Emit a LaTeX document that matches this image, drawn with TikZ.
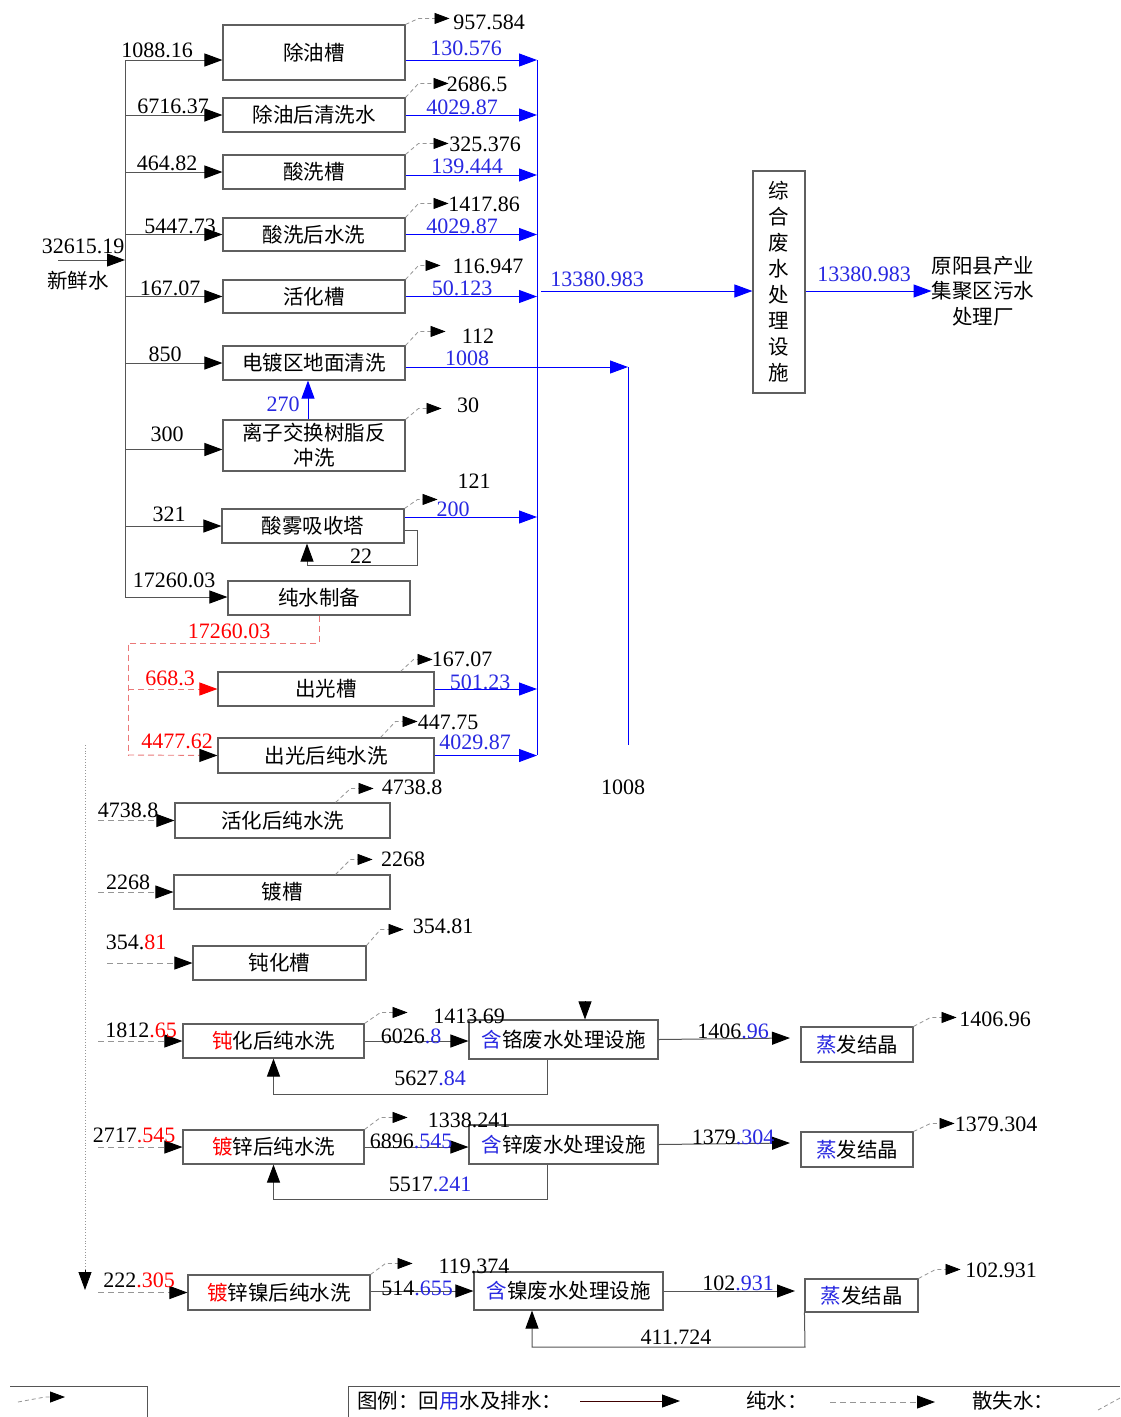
\documentclass[tikz,border=0pt]{standalone}
\usepackage{fontspec}
\setmainfont{Liberation Serif}
\newfontfamily\cjk{Noto Sans CJK SC}
\usetikzlibrary{arrows.meta,calc}
\definecolor{boxgray}{RGB}{95,95,95}
\definecolor{lgray}{RGB}{85,85,85}
\definecolor{lossgray}{RGB}{150,150,150}
\definecolor{fblue}{RGB}{0,0,255}
\definecolor{tblue}{RGB}{40,40,225}
\definecolor{fred}{RGB}{255,0,0}
\definecolor{dred}{RGB}{235,120,120}
\begin{document}
\begin{tikzpicture}[x=1pt,y=-1pt,
  box/.style={draw=boxgray,line width=1.1pt,fill=white,inner sep=0pt,font=\cjk\fontsize{20.5}{24}\selectfont,align=center},
  num/.style={font=\fontsize{22}{24}\selectfont,inner sep=0pt},
  bnum/.style={num,text=tblue},
  rnum/.style={num,text=fred},
  cjklab/.style={font=\cjk\fontsize{20.5}{25.5}\selectfont,align=center,inner sep=0pt},
  gline/.style={draw=lgray,line width=1pt},
  flow/.style={gline,-{Triangle[length=18pt,width=13pt,color=black]}},
  bline/.style={draw=fblue,line width=1pt},
  bflow/.style={bline,-{Triangle[length=18pt,width=13pt,color=fblue]}},
  rline/.style={draw=dred,line width=0.9pt,dash pattern=on 6pt off 4pt},
  rflow/.style={rline,-{Triangle[length=18pt,width=13pt,color=fred]}},
  rkflow/.style={rline,-{Triangle[length=18pt,width=13pt,color=black]}},
  pflow/.style={draw=lossgray,line width=0.9pt,dash pattern=on 6pt off 4pt,-{Triangle[length=18pt,width=13pt,color=black]}},
  loss/.style={draw=lossgray,line width=0.8pt,dash pattern=on 4pt off 3pt,-{Triangle[length=15pt,width=11pt,color=black]}},
]
\fill[white] (0,0) rectangle (1120,1417);
\useasboundingbox (0,0) rectangle (1120,1417);

% ---------------- boxes ----------------
\node[box,minimum width=182pt,minimum height=55pt] (b1) at (314,52.5) {除油槽};
\node[box,minimum width=182pt,minimum height=34pt] (b2) at (314,115) {除油后清洗水};
\node[box,minimum width=182pt,minimum height=34pt] (b3) at (314,172) {酸洗槽};
\node[box,minimum width=182pt,minimum height=33pt] (b4) at (314,234.5) {酸洗后水洗};
\node[box,minimum width=182pt,minimum height=33pt] (b5) at (314,296.5) {活化槽};
\node[box,minimum width=182pt,minimum height=34pt] (b6) at (314,363) {电镀区地面清洗};
\node[box,minimum width=182pt,minimum height=51pt,font=\cjk\fontsize{20.5}{25}\selectfont] (b7) at (314,445.5) {离子交换树脂反\\冲洗};
\node[box,minimum width=182pt,minimum height=34pt] (b8) at (313,526) {酸雾吸收塔};
\node[box,minimum width=182pt,minimum height=34pt] (b9) at (319,598) {纯水制备};
\node[box,minimum width=52pt,minimum height=222pt,font=\cjk\fontsize{20.5}{26}\selectfont] (c1) at (779,282) {综\\合\\废\\水\\处\\理\\设\\施};
\node[cjklab] (dest) at (983,291) {原阳县产业\\集聚区污水\\处理厂};

\node[box,minimum width=216pt,minimum height=34pt] (p1) at (326,689) {出光槽};
\node[box,minimum width=216pt,minimum height=35pt] (p2) at (326,755.5) {出光后纯水洗};
\node[box,minimum width=215pt,minimum height=35pt] (p3) at (282.5,820.5) {活化后纯水洗};
\node[box,minimum width=216pt,minimum height=34pt] (p4) at (282,892) {镀槽};
\node[box,minimum width=173pt,minimum height=34pt] (p5) at (279.5,963) {钝化槽};
\node[box,minimum width=181pt,minimum height=34pt] (p6) at (273.5,1041) {\textcolor{fred}{钝}化后纯水洗};
\node[box,minimum width=181pt,minimum height=34pt] (p7) at (273.5,1147) {\textcolor{fred}{镀}锌后纯水洗};
\node[box,minimum width=182pt,minimum height=35pt] (p8) at (279,1292.5) {\textcolor{fred}{镀}锌镍后纯水洗};
\node[box,minimum width=189pt,minimum height=39pt] (f1) at (563.5,1039.5) {\textcolor{tblue}{含}铬废水处理设施};
\node[box,minimum width=189pt,minimum height=39pt] (f2) at (563.5,1144.5) {\textcolor{tblue}{含}锌废水处理设施};
\node[box,minimum width=189pt,minimum height=38pt] (f3) at (568.5,1291) {\textcolor{tblue}{含}镍废水处理设施};
\node[box,minimum width=112pt,minimum height=35pt] (e1) at (857,1044.5) {\textcolor{tblue}{蒸}发结晶};
\node[box,minimum width=112pt,minimum height=35pt] (e2) at (857,1149.5) {\textcolor{tblue}{蒸}发结晶};
\node[box,minimum width=113pt,minimum height=33pt] (e3) at (861.5,1295.5) {\textcolor{tblue}{蒸}发结晶};

% ---------------- fresh water ----------------
\coordinate (fw) at (58,260);
\coordinate (t0) at (125,60);
\coordinate (t9) at (125,597);
\draw[gline] (t0) -- (t9);
\draw[flow] (fw) -- (fw -| t0);
\node[num] (lfw) at (83,246) {32615.19};
\node[cjklab] (lfw2) at (78,281) {新鲜水};

\coordinate (i1) at ([yshift=-7.5pt]b1.west);
\draw[flow] (t0) -- (i1);
\draw[flow] (t0 |- b2.west) -- (b2.west);
\draw[flow] (t0 |- b3.west) -- (b3.west);
\draw[flow] (t0 |- b4.west) -- (b4.west);
\draw[flow] (t0 |- b5.west) -- (b5.west);
\draw[flow] (t0 |- b6.west) -- (b6.west);
\coordinate (i7) at ([yshift=-4pt]b7.west);
\draw[flow] (t0 |- i7) -- (i7);
\draw[flow] (t0 |- b8.west) -- (b8.west);
\draw[flow] (t9) -- (t9 -| b9.west);

\node[num] at (157,50) {1088.16};
\node[num] at (173,106) {6716.37};
\node[num] at (167,163) {464.82};
\node[num] at (180,226) {5447.73};
\node[num] at (170,288) {167.07};
\node[num] at (165,354) {850};
\node[num] at (167,434) {300};
\node[num] at (169,514) {321};
\node[num] at (174,580) {17260.03};

% ---------------- losses (top) ----------------
\draw[loss] (b1.north east) -- ++(13,-6) -- ++(31,0);
\node[num] at (489,22) {957.584};
\draw[loss] (b2.north east) -- ++(13,-14) -- ++(30,0);
\node[num] at (477,84) {2686.5};
\draw[loss] (b3.north east) -- ++(13,-11) -- ++(30,0);
\node[num] at (485,144) {325.376};
\draw[loss] (b4.north east) -- ++(13,-14) -- ++(30,0);
\node[num] at (484,204) {1417.86};
\draw[loss] (b5.north east) -- ++(13,-14) -- ++(22,0);
\node[num] at (488,266) {116.947};
\draw[loss] (b6.north east) -- ++(13,-14) -- ++(27,0);
\node[num] at (478,336) {112};
\draw[loss] (b7.north east) -- ++(13,-11) -- ++(23,0);
\node[num] at (468,405) {30};
\draw[loss] (b8.north east) -- ++(13,-9) -- ++(20,0);
\node[num] at (474,481) {121};

% ---------------- blue collector ----------------
\coordinate (k0) at (537,60);
\coordinate (k1) at (537,755);
\draw[bline] (k0) -- (k1);
\coordinate (o1) at ([yshift=-7.5pt]b1.east);
\draw[bflow] (o1) -- (o1 -| k0);
\draw[bflow] (b2.east) -- (b2.east -| k0);
\coordinate (o3) at ([yshift=-3pt]b3.east);
\draw[bflow] (o3) -- (o3 -| k0);
\draw[bflow] (b4.east) -- (b4.east -| k0);
\draw[bflow] (b5.east) -- (b5.east -| k0);
\coordinate (o8) at ([yshift=9pt]b8.east);
\draw[bflow] (o8) -- (o8 -| k0);
\node[bnum] at (466,48) {130.576};
\node[bnum] at (462,107) {4029.87};
\node[bnum] at (467,166) {139.444};
\node[bnum] at (462,226) {4029.87};
\node[bnum] at (462,288) {50.123};
\node[bnum] at (453,509) {200};

% 1008 from floor washing
\coordinate (o6) at ([yshift=-4pt]b6.east);
\coordinate (r6) at (628,745);
\draw[bflow] (o6) -- (o6 -| r6);
\draw[bline] (r6 |- o6) -- (r6);
\node[bnum] at (467,358) {1008};
\node[num] at (623,787) {1008};

% 270 ion exchange -> floor washing
\coordinate (s7) at ([xshift=-6pt]b7.north);
\coordinate (s6) at ([xshift=-6pt]b6.south);
\draw[bflow] (s7) -- (s6);
\node[bnum] at (283,404) {270};

% acid mist loop 22
\coordinate (o8b) at ([yshift=-4pt]b8.east);
\coordinate (s8) at ([xshift=-6pt]b8.south);
\coordinate (q8) at (417,565);
\draw[flow] (o8b) -- (o8b -| q8) -- (q8) -- (q8 -| s8) -- (s8);
\node[num] at (361,556) {22};

% to combined treatment
\coordinate (m0) at (541,291);
\draw[bflow] (m0) -- (m0 -| c1.west);
\node[bnum] at (597,279) {13380.983};
\draw[bflow] (c1.east |- m0) -- (dest.west |- m0);
\node[bnum] at (864,274) {13380.983};

% ---------------- pure water ----------------
\coordinate (u0) at (319,643);
\coordinate (u1) at (128,643);
\coordinate (u2) at (128,755);
\draw[rline] (b9.south) -- (u0) -- (u1) -- (u2);
\node[rnum] at (229,631) {17260.03};

\draw[rflow] (u1 |- p1.west) -- (p1.west);
\node[rnum] at (170,678) {668.3};
\draw[rkflow] (u2) -- (p2.west);
\node[rnum] at (177,741) {4477.62};

\coordinate (n1) at ([xshift=-34pt]p1.north east);
\draw[loss] (n1) -- ++(13,-12) -- ++(19,0);
\node[num] at (462,659) {167.07};
\draw[bflow] (p1.east) -- (p1.east -| k0);
\node[bnum] at (480,682) {501.23};

\coordinate (n2) at ([xshift=-54pt]p2.north east);
\draw[loss] (n2) -- ++(15,-16) -- ++(22,0);
\node[num] at (448,722) {447.75};
\draw[bflow] (p2.east) -- (p2.east -| k0);
\node[bnum] at (475,742) {4029.87};

% lower pure water trunk
\coordinate (v0) at (85,745);
\coordinate (v1) at (85,1270);
\coordinate (v2) at (85,1290);
\coordinate (w0) at (98,745);
\coordinate (w5) at (107,745);
\draw[lossgray,line width=0.8pt,dotted] (v0) -- (v1);
\draw[-{Triangle[length=18pt,width=13pt,color=black]},draw=black,line width=0.8pt] (v1) -- (v2);

\draw[pflow] (w0 |- p3.west) -- (p3.west);
\node[num] at (128,810) {4738.8};
\draw[pflow] (w0 |- p4.west) -- (p4.west);
\node[num] at (128,882) {2268};
\draw[pflow] (w5 |- p5.west) -- (p5.west);
\node[num] at (136,942) {354.\textcolor{fred}{81}};
\draw[pflow] (w0 |- p6.west) -- (p6.west);
\node[num] at (141,1030) {1812\textcolor{fred}{.65}};
\draw[pflow] (w0 |- p7.west) -- (p7.west);
\node[num] at (134,1135) {2717\textcolor{fred}{.545}};
\draw[pflow] (w0 |- p8.west) -- (p8.west);
\node[num] at (139,1280) {222\textcolor{fred}{.305}};

\coordinate (n3) at ([xshift=-55pt]p3.north east);
\draw[loss] (n3) -- ++(15,-14) -- ++(23,0);
\node[num] at (412,787) {4738.8};
\coordinate (n4) at ([xshift=-55pt]p4.north east);
\draw[loss] (n4) -- ++(15,-15) -- ++(22,0);
\node[num] at (403,859) {2268};
\draw[loss] (p5.north east) -- ++(14,-16) -- ++(23,0);
\node[num] at (443,926) {354.81};

% chromium line
\draw[loss] (p6.north east) -- ++(16,-11) -- ++(27,0);
\node[num] at (469,1016) {1413.69};
\draw[flow] (p6.east) -- (p6.east -| f1.west);
\node[num] at (411,1036) {6026\textcolor{tblue}{.8}};
\coordinate (g1) at (547,1094);
\draw[flow] (g1 |- f1.south) -- (g1) -- (g1 -| p6.south) -- (p6.south);
\node[num] at (430,1078) {5627\textcolor{tblue}{.84}};
\coordinate (x1) at (790,1038);
\draw[flow] (f1.east) -- (x1);
\node[num] at (733,1031) {1406\textcolor{tblue}{.96}};
\draw[loss] (e1.north east) -- ++(17,-9) -- ++(26,0);
\node[num] at (995,1019) {1406.96};
\coordinate (d1) at (585,1001);
\draw[-{Triangle[length=18pt,width=13pt,color=black]},draw=black,line width=0.8pt] (d1) -- (d1 |- f1.north);

% zinc line
\draw[loss] (p7.north east) -- ++(16,-12) -- ++(27,0);
\node[num] at (469,1120) {1338.241};
\draw[flow] (p7.east) -- (p7.east -| f2.west);
\node[num] at (411,1141) {6896\textcolor{tblue}{.545}};
\coordinate (g2) at (547,1199);
\draw[flow] (g2 |- f2.south) -- (g2) -- (g2 -| p7.south) -- (p7.south);
\node[num] at (430,1184) {5517\textcolor{tblue}{.241}};
\coordinate (x2) at (790,1143);
\draw[flow] (f2.east) -- (x2);
\node[num] at (733,1137) {1379\textcolor{tblue}{.304}};
\draw[loss] (e2.north east) -- ++(17,-8) -- ++(24,0);
\node[num] at (996,1124) {1379.304};

% nickel line
\draw[loss] (p8.north east) -- ++(15,-11) -- ++(27,0);
\node[num] at (474,1266) {119.374};
\draw[flow] (p8.east |- f3.west) -- (f3.west);
\node[num] at (417,1288) {514\textcolor{tblue}{.655}};
\coordinate (x3) at (795,1291);
\draw[flow] (f3.east) -- (x3);
\node[num] at (738,1283) {102\textcolor{tblue}{.931}};
\draw[loss] (e3.north east) -- ++(17,-9) -- ++(25,0);
\node[num] at (1001,1270) {102.931};
\coordinate (g3) at (805,1347);
\coordinate (h3) at (532,1347);
\draw[flow] (e3.south west) -- (g3) -- (h3) -- (h3 |- f3.south);
\node[num] at (676,1337) {411.724};

% ---------------- legend ----------------
\draw[gline] (10,1386) -- (147,1386) -- (147,1417);
\draw[loss] (18,1402) -- (45,1397) -- (65,1397);
\draw[gline] (348,1417) -- (348,1386) -- (1120,1386);
\node[cjklab,anchor=west] (lg1) at (357,1401) {图例：回\textcolor{tblue}{用}水及排水：};
\coordinate (la) at (580,1401);
\coordinate (lb) at (680,1401);
\draw[draw=black!75!red,line width=0.9pt,-{Triangle[length=18pt,width=13pt,color=black]}] (la) -- (lb);
\node[cjklab] (lg2) at (777,1401) {纯水：};
\coordinate (lc) at (830,1402);
\coordinate (ld) at (935,1402);
\draw[pflow] (lc) -- (ld);
\node[cjklab] (lg3) at (1013,1401) {散失水：};
\draw[lossgray,line width=0.8pt,dash pattern=on 4pt off 3pt] (1098,1410) -- (1120,1398);
\end{tikzpicture}
\end{document}
